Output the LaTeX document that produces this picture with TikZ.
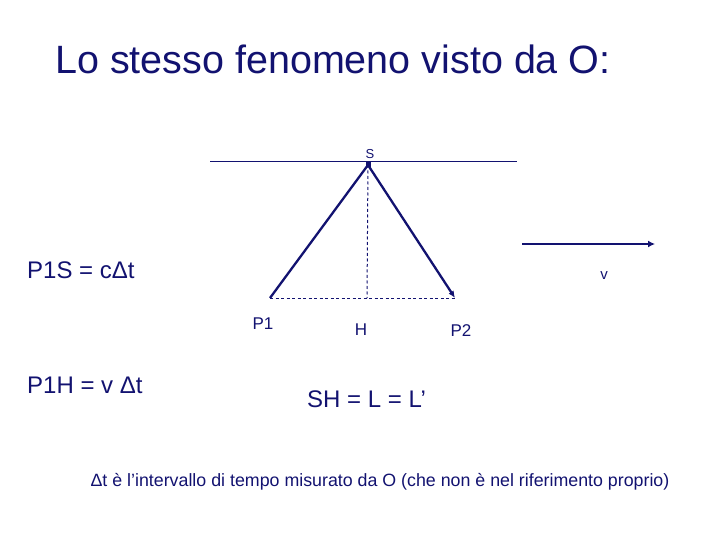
\documentclass[tikz,border=0pt]{standalone}
\usepackage{fontspec}
\setmainfont{Liberation Sans}
\usepackage{tikz}
\usetikzlibrary{arrows.meta, positioning, calc}
\definecolor{navy}{RGB}{18,18,112}

\tikzset{
    txt/.style={text=navy, inner sep=0pt, anchor=base west, font=\fontsize{24}{28}\selectfont},
    lbl/.style={text=navy, inner sep=0pt, anchor=base, font=\fontsize{17}{20}\selectfont},
    ray/.style={draw=navy, line width=2.3pt},
    aux/.style={draw=navy, line width=1pt, dash pattern=on 3pt off 2.5pt},
}

\begin{document}
\begin{tikzpicture}[x=1pt, y=-1pt]
    \useasboundingbox (0,0) rectangle (720,540);
    % titolo
    \node[txt, font=\fontsize{39.5}{46}\selectfont] (titolo) at (55,74) {Lo stesso fenomeno visto da O:};

    % punti del triangolo
    \coordinate (S) at (368,165);
    \coordinate (P1) at (270,298);
    \coordinate (P2) at (455,298);
    \coordinate (H) at (367,298);
    \coordinate (A) at (210,162);
    \coordinate (B) at (517,162);

    \draw[navy, line width=1pt] (A) -- (B);
    \draw[aux] (S) -- (H);
    \draw[aux] (P1) -- (P2);
    \draw[ray] (P1) -- (S);
    \draw[ray, -{Latex[length=7pt, width=6pt]}] (S) -- (P2);
    \fill[navy] ($(S)+(-2.5,-3)$) rectangle ++(5,5);

    % velocita
    \coordinate (v0) at (522,244);
    \coordinate (v1) at (655,244);
    \draw[navy, line width=2pt, -{Latex[length=7pt, width=7pt]}] (v0) -- (v1);

    % etichette
    \node[lbl, font=\fontsize{13}{15}\selectfont] (lS) at (370,159) {S};
    \node[lbl] (lP1) at (263,329) {P1};
    \node[lbl] (lH) at (361,335) {H};
    \node[lbl] (lP2) at (461,336) {P2};
    \node[lbl, font=\fontsize{15}{18}\selectfont] (lv) at (604,279) {v};

    \node[txt] (eqA) at (27,278) {P1S = cΔt};
    \node[txt] (eqB) at (27,393) {P1H = v Δt};
    \node[txt] (eqC) at (307,407) {SH = L = L’};
    \node[txt, anchor=base, font=\fontsize{17.8}{21}\selectfont] (nota) at (380,486)
        {Δt è l’intervallo di tempo misurato da O (che non è nel riferimento proprio)};
\end{tikzpicture}
\end{document}
